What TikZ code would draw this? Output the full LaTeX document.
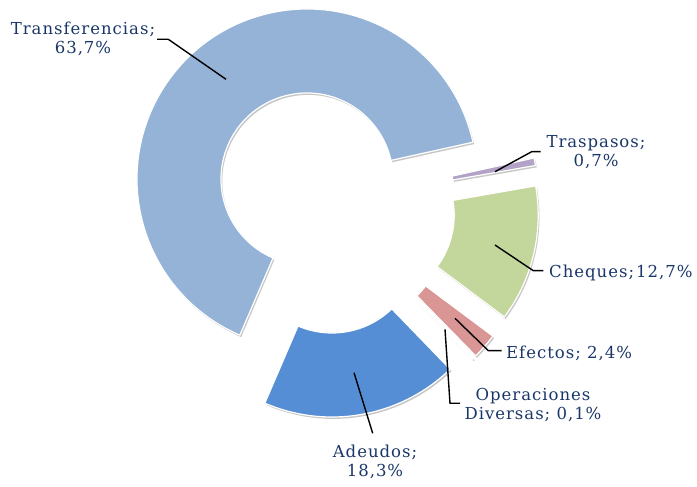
\documentclass[tikz,border=0pt]{standalone}
\usepackage{fontspec}
\newfontfamily\lblfont[LetterSpace=6]{DejaVu Serif}
\usetikzlibrary{calc}
\definecolor{cTrans}{HTML}{95B3D7}
\definecolor{cTrasp}{HTML}{B3A2C7}
\definecolor{cCheq}{HTML}{C3D69B}
\definecolor{cEfec}{HTML}{D99694}
\definecolor{cOper}{HTML}{A5A5A5}
\definecolor{cAdeu}{HTML}{558ED5}
\definecolor{cText}{HTML}{1A3668}
\newcommand\ringslice[5]{%
  \fill[black,opacity=0.22,shift={(#1+1.3,#2-1.9)}]
    (#3:86pt) -- (#3:170pt) arc[start angle=#3,end angle=#4,radius=170pt]
    -- (#4:86pt) arc[start angle=#4,end angle=#3,radius=86pt] -- cycle;
  \filldraw[fill=#5,draw=white,line width=1.2pt,line join=round,shift={(#1,#2)}]
    (#3:86pt) -- (#3:170pt) arc[start angle=#3,end angle=#4,radius=170pt]
    -- (#4:86pt) arc[start angle=#4,end angle=#3,radius=86pt] -- cycle;
}
\tikzset{
  lbl/.style={font=\lblfont\fontsize{16.5}{19.5}\selectfont,text=cText,align=center,inner sep=0pt},
  leader/.style={draw=black,line width=1.4pt}
}
\begin{document}
\begin{tikzpicture}[x=1pt,y=1pt]
\useasboundingbox (0,0) rectangle (697,487);
% slices
\ringslice{307}{308}{12.5}{246.73}{cTrans}
\ringslice{368}{292.2}{9.93}{12.5}{cTrasp}
\ringslice{368.2}{271.8}{-36.77}{9.93}{cCheq}
\ringslice{356.7}{252.6}{-45.6}{-36.77}{cEfec}
\ringslice{354.3}{250.0}{-45.97}{-45.6}{cOper}
\ringslice{332}{240}{-113.27}{-45.97}{cAdeu}
% labels
\node[lbl] (lTrans) at (83,448) {Transferencias;\\63,7\%};
\node[lbl] (lTrasp) at (596,335) {Traspasos;\\0,7\%};
\node[lbl,anchor=west] (lCheq) at (549,214) {Cheques;\hspace{0.12em}12,7\%};
\node[lbl,anchor=west] (lEfec) at (506,134) {Efectos; 2,4\%};
\node[lbl] (lOper) at (533,82) {Operaciones\\Diversas; 0,1\%};
\node[lbl] (lAdeu) at (375,25) {Adeudos;\\18,3\%};
% leader coordinates
\coordinate (sTrans) at (226,407.7);
\coordinate (bTrans) at (168.3,447.7);
\coordinate (eTrans) at (157,447.7);
\coordinate (sTrasp) at (495,315.3);
\coordinate (bTrasp) at (531.7,335.3);
\coordinate (eTrasp) at (540.7,335.3);
\coordinate (sCheq) at (495,242);
\coordinate (bCheq) at (533.3,216.3);
\coordinate (eCheq) at (543.3,216.3);
\coordinate (sEfec) at (455,168.7);
\coordinate (bEfec) at (488.3,136.3);
\coordinate (eEfec) at (501.7,136.3);
\coordinate (sOper) at (445,157.7);
\coordinate (bOper) at (450,83.7);
\coordinate (eOper) at (460,83.7);
\coordinate (sAdeu) at (354,114.3);
\coordinate (eAdeu) at (372.7,53.7);
% leaders
\draw[leader] (sTrans) -- (bTrans) -- (eTrans);
\draw[leader] (sTrasp) -- (bTrasp) -- (eTrasp);
\draw[leader] (sCheq) -- (bCheq) -- (eCheq);
\draw[leader] (sEfec) -- (bEfec) -- (eEfec);
\draw[leader] (sOper) -- (bOper) -- (eOper);
\draw[leader] (sAdeu) -- (eAdeu);
\end{tikzpicture}
\end{document}
